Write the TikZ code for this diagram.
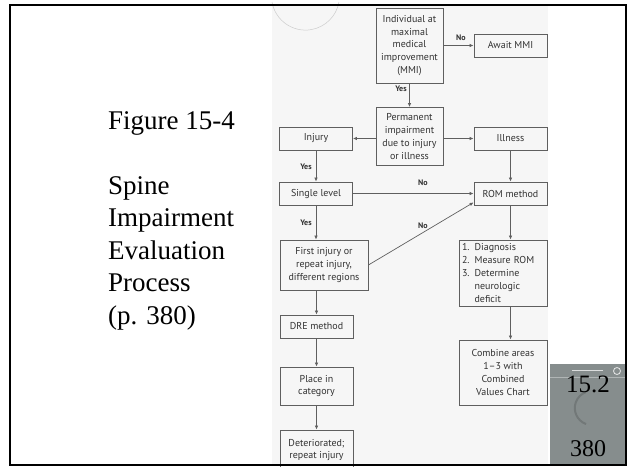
\documentclass[tikz,border=0pt]{standalone}
\usepackage{fontspec}
\setmainfont{Liberation Serif}
\setsansfont{PT Sans}
\usepackage{tikz}
\usetikzlibrary{arrows.meta,calc,positioning}
\definecolor{figInk}{RGB}{50,50,50}
\definecolor{figLine}{RGB}{95,95,95}
\definecolor{figScan}{RGB}{246,246,246}
\definecolor{figThumb}{RGB}{134,141,141}

\begin{document}
\begin{tikzpicture}[
  x=1pt,
  y=-1pt,
  >=Latex,
  font=\sffamily\fontsize{10}{12.8}\selectfont,
  box/.style={draw=figLine, line width=0.8pt, align=center, inner sep=2pt, text=figInk},
  smallbox/.style={box, minimum width=73pt, minimum height=23pt},
  answer/.style={font=\sffamily\bfseries\fontsize{8}{9}\selectfont, text=figInk, inner sep=1pt},
  line/.style={-{Latex[length=4pt,width=3.4pt]}, draw=figLine, line width=0.7pt},
  caption/.style={font=\rmfamily\fontsize{27}{32.5}\selectfont, align=left, anchor=north west, inner sep=0pt}
]
\useasboundingbox (0,0) rectangle (632,466);
\fill[figScan] (272,5) rectangle (548,465);
\draw[gray!40, line width=0.5pt] (272,2) arc[start angle=170, end angle=10, radius=34];

\node[box, minimum width=67pt, minimum height=75pt] (mmi) at (409.5,45.5) {Individual at\\maximal\\medical\\improvement\\(MMI)};
\node[smallbox] (await) at (510.5,45.5) {Await MMI};
\node[box, minimum width=67pt, minimum height=58pt] (perm) at (409.5,136.5) {Permanent\\impairment\\due to injury\\or illness};
\node[smallbox] (injury) at (316,138.5) {Injury};
\node[smallbox] (illness) at (510.5,138.5) {Illness};
\node[smallbox] (single) at (316,193.5) {Single level};
\node[smallbox] (rom) at (510.5,193.5) {ROM method};
\node[box, minimum width=88pt, minimum height=50pt] (first) at (324,265) {First injury or\\repeat injury,\\different regions};
\node[box, minimum width=88pt, minimum height=66pt, align=left, text width=82pt, inner xsep=3pt, inner ysep=1pt] (diag) at (503,273) {1. Diagnosis\\2. Measure ROM\\3. Determine\\\phantom{3. }neurologic\\\phantom{3. }deficit};
\node[box, minimum width=88pt, minimum height=65pt] (combine) at (503,372.5) {Combine areas\\1--3 with\\Combined\\Values Chart};
\node[smallbox] (dre) at (316.5,326.5) {DRE method};
\node[box, minimum width=73pt, minimum height=38pt] (place) at (316.5,386) {Place in\\category};
\node[box, minimum width=73pt, minimum height=40pt] (det) at (316.5,450) {Deteriorated;\\repeat injury};

\draw[line] (mmi.east) -- (await.west);
\draw[line] (mmi.south) -- (mmi.south |- perm.north);
\draw[line] (perm.west |- injury.east) -- (injury.east);
\draw[line] (perm.east |- illness.west) -- (illness.west);
\draw[line] (injury.south) -- (single.north);
\draw[line] (illness.south) -- (rom.north);
\draw[line] (single.east) -- (rom.west);
\draw[line] (single.south) -- (single.south |- first.north);
\draw[line] (first.east) -- ([yshift=3pt]rom.south west);
\draw[line] (rom.south) -- (rom.south |- diag.north);
\draw[line] (rom.south |- diag.south) -- (rom.south |- combine.north);
\draw[line] (dre.north |- first.south) -- (dre.north);
\draw[line] (dre.south) -- (place.north);
\draw[line] (place.south) -- (det.north);

\node[answer] (noMmi) at (461,38) {No};
\node[answer] (yesMmi) at (401,89) {Yes};
\node[answer] (yesInjury) at (306,167) {Yes};
\node[answer] (noSingle) at (423,183) {No};
\node[answer] (yesSingle) at (306,223) {Yes};
\node[answer] (noFirst) at (423,226) {No};

\node[caption] (title) at (108,111) {Figure 15-4\\[32.5pt]Spine\\Impairment\\Evaluation\\Process\\(p. 380)};

% thumbnail of the book cover
\fill[figThumb] (550,364) rectangle (627,466);
\draw[white!70!figThumb, line width=1pt] (572,370) -- (603,370);
\draw[white!80!figThumb, line width=0.8pt] (617,371) circle[radius=3.5];
\draw[white!35!figThumb, line width=0.5pt] (550,377) -- (627,377);
\draw[black!15!figThumb, line width=2pt] (586,424) arc[start angle=110, end angle=250, radius=17];
\node[font=\rmfamily\fontsize{25}{25}\selectfont, inner sep=0pt] (vol) at (588,384) {15.2};
\node[font=\rmfamily\fontsize{24}{24}\selectfont, inner sep=0pt] (page) at (588,449) {380};

\draw[black, line width=2pt] (10,5) rectangle (626,465);
\end{tikzpicture}
\end{document}
